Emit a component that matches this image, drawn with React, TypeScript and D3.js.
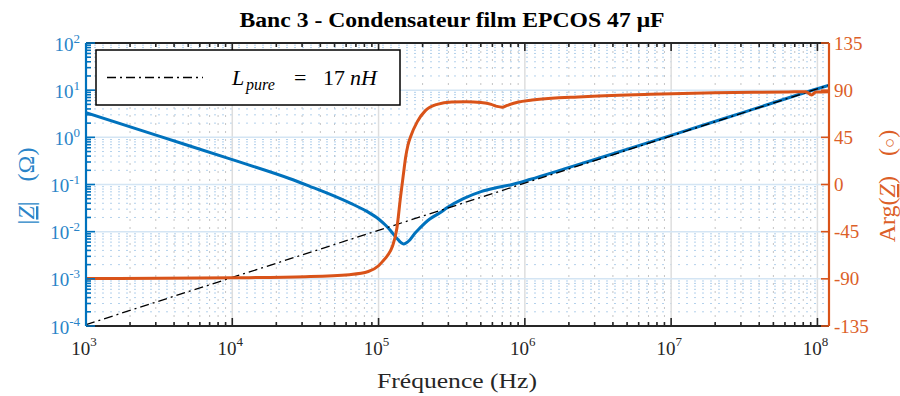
import React from 'react';
import * as d3 from 'd3';

// ---- data ----
const magFreq = [1e3, 3162, 1e4, 24547, 33884, 46774, 64565, 83176, 1e5, 112202, 120226, 133352, 147911, 164059, 177828, 190546, 223872, 263027, 295121, 380189, 501187, 645654, 794328, 1.096e6, 1.862e6, 3.162e6, 1e7, 3.162e7, 1e8, 1.2e8];
const magZ = [3.35, 1.06, 0.336, 0.134, 0.0915, 0.0617, 0.0398, 0.0269, 0.0186, 0.0135, 0.0107, 0.00724, 0.0055, 0.00676, 0.00933, 0.01175, 0.0186, 0.0251, 0.0324, 0.0501, 0.0708, 0.0861, 0.0977, 0.129, 0.214, 0.355, 1.10, 3.43, 10.7, 12.7];

const phaseFreq = [1e3, 3162, 1e4, 31623, 63096, 85114, 1e5, 107152, 114815, 124451, 133352, 141254, 147911, 153109, 158489, 165959, 184077, 208930, 251189, 316228, 398107, 501187, 588844, 645654, 699842, 758578, 891251, 1.122e6, 2.512e6, 7.244e6, 1.995e7, 6.31e7, 8.318e7, 9.12e7, 9.77e7, 1.2e8];
const phaseDeg = [-89.8, -89.5, -89.0, -88.0, -86.0, -83.0, -77.5, -73, -68, -59, -42, -12, 10, 26, 37, 46, 60, 70.5, 76.5, 78.8, 79, 78.2, 76.5, 74.5, 73.8, 75.5, 78.5, 80.6, 83.8, 86, 87.6, 88.3, 88.6, 85.5, 88.3, 88.6];

const lpureFreq = [1e3, 1.2e8];
const lpureZ = [1.07e-4, 12.8];

const xDecades = [3, 4, 5, 6, 7, 8];
const yDecades = [-4, -3, -2, -1, 0, 1, 2];
const phaseTicks = [-135, -90, -45, 0, 45, 90, 135];

const TITLE = 'Banc 3 - Condensateur film EPCOS 47 μF';
const XLABEL = 'Fréquence (Hz)';

const BLUE = '#0072BD';
const BLUE_TXT = '#2a84c8';
const ORANGE = '#D95319';
const ORANGE_TXT = '#dc5f28';
const FONT = '"Liberation Serif", "DejaVu Serif", serif';

export default function App() {
  const L = 86, R = 829, T = 43, B = 326;
  const x = d3.scaleLog().domain([1e3, 1.2e8]).range([L, R]);
  const yL = d3.scaleLog().domain([1e-4, 1e2]).range([B, T]);
  const yR = d3.scaleLinear().domain([-135, 135]).range([B, T]);

  const xMinor: number[] = [];
  xDecades.forEach((d) => {
    for (let k = 2; k <= 9; k++) {
      const v = k * Math.pow(10, d);
      if (v <= 1.2e8) xMinor.push(v);
    }
  });
  const yMinor: number[] = [];
  yDecades.forEach((d) => {
    if (d >= 2) return;
    for (let k = 2; k <= 9; k++) yMinor.push(k * Math.pow(10, d));
  });

  const lineMag = d3
    .line<number>()
    .x((_, i) => x(magFreq[i]))
    .y((v) => yL(v))
    .curve(d3.curveMonotoneX);
  const linePh = d3
    .line<number>()
    .x((_, i) => x(phaseFreq[i]))
    .y((v) => yR(v))
    .curve(d3.curveMonotoneX);
  const lineLp = d3
    .line<number>()
    .x((_, i) => x(lpureFreq[i]))
    .y((v) => yL(v));

  return (
    <svg width={900} height={396} style={{ position: 'absolute', left: 0, top: 0, background: '#fff' }} fontFamily={FONT}>
      <rect x={0} y={0} width={900} height={396} fill="#fff" />
      <defs>
        <clipPath id="plotclip">
          <rect x={L} y={T} width={R - L} height={B - T} />
        </clipPath>
      </defs>
      {/* grid */}
      <g>
        {xMinor.map((v, i) => (
          <line key={'xm' + i} x1={x(v)} x2={x(v)} y1={T} y2={B} stroke="#c4c4c4" strokeWidth={1} strokeDasharray="2 6" />
        ))}
        {yMinor.map((v, i) => (
          <line key={'ym' + i} x1={L} x2={R} y1={yL(v)} y2={yL(v)} stroke="#b3d1ec" strokeWidth={1} strokeDasharray="2 6" />
        ))}
        {xDecades.map((d) => (
          <line key={'xM' + d} x1={x(Math.pow(10, d))} x2={x(Math.pow(10, d))} y1={T} y2={B} stroke="#dedede" strokeWidth={1.5} />
        ))}
        {yDecades.map((d) => (
          <line key={'yM' + d} x1={L} x2={R} y1={yL(Math.pow(10, d))} y2={yL(Math.pow(10, d))} stroke="#d4e5f4" strokeWidth={1.5} />
        ))}
      </g>
      {/* curves */}
      <g clipPath="url(#plotclip)">
        <path d={lineMag(magZ) || ''} fill="none" stroke={BLUE} strokeWidth={3} strokeLinejoin="round" />
        <path d={lineLp(lpureZ) || ''} fill="none" stroke="#000" strokeWidth={1.3} strokeDasharray="9 4 2 4" />
        <path d={linePh(phaseDeg) || ''} fill="none" stroke={ORANGE} strokeWidth={3} strokeLinejoin="round" />
      </g>
      {/* bottom & top axes */}
      <g stroke="#262626">
        <line x1={L} x2={R} y1={B} y2={B} strokeWidth={2} />
        <line x1={L} x2={R} y1={T} y2={T} strokeWidth={2} />
        {xDecades.map((d) => (
          <g key={'xt' + d}>
            <line x1={x(Math.pow(10, d))} x2={x(Math.pow(10, d))} y1={B} y2={B - 8} strokeWidth={1.6} />
            <line x1={x(Math.pow(10, d))} x2={x(Math.pow(10, d))} y1={T} y2={T + 8} strokeWidth={1.6} />
          </g>
        ))}
        {xMinor.map((v, i) => (
          <g key={'xmt' + i}>
            <line x1={x(v)} x2={x(v)} y1={B} y2={B - 4} strokeWidth={1.6} />
            <line x1={x(v)} x2={x(v)} y1={T} y2={T + 4} strokeWidth={1.6} />
          </g>
        ))}
      </g>
      {xDecades.map((d) => (
        <text key={'xl' + d} x={x(Math.pow(10, d)) - 2} y={355} textAnchor="middle" fontSize={19} fill="#262626">
          10<tspan dy={-9} fontSize={13}>{d}</tspan>
        </text>
      ))}
      {/* left axis */}
      <g stroke={BLUE}>
        <line x1={L} x2={L} y1={T} y2={B} strokeWidth={2.2} />
        {yDecades.map((d) => (
          <line key={'yt' + d} x1={L} x2={L + 9} y1={yL(Math.pow(10, d))} y2={yL(Math.pow(10, d))} strokeWidth={1.6} />
        ))}
        {yMinor.map((v, i) => (
          <line key={'ymt' + i} x1={L} x2={L + 5} y1={yL(v)} y2={yL(v)} strokeWidth={1.6} />
        ))}
      </g>
      {yDecades.map((d) => (
        <text key={'yl' + d} x={80} y={yL(Math.pow(10, d)) + 7.5} textAnchor="end" fontSize={19} fill={BLUE_TXT}>
          10<tspan dy={-8} fontSize={13}>{d}</tspan>
        </text>
      ))}
      {/* right axis */}
      <g stroke={ORANGE}>
        <line x1={R} x2={R} y1={T} y2={B} strokeWidth={2.2} />
        {phaseTicks.map((p) => (
          <line key={'pt' + p} x1={R} x2={R - 8} y1={yR(p)} y2={yR(p)} strokeWidth={1.6} />
        ))}
      </g>
      {phaseTicks.map((p) => (
        <text key={'pl' + p} x={834} y={yR(p) + 6.5} textAnchor="start" fontSize={19} fill={ORANGE_TXT}>
          {p}
        </text>
      ))}
      {/* axis labels */}
      <text transform="translate(34,186) rotate(-90)" textAnchor="middle" fontSize={24} fill={BLUE_TXT}>
        |<tspan fontStyle="italic" textDecoration="underline">Z</tspan>|<tspan dx={20}>(Ω)</tspan>
      </text>
      <text transform="translate(895,186) rotate(-90)" textAnchor="middle" fontSize={24} fill={ORANGE_TXT}>
        Arg(<tspan fontStyle="italic" textDecoration="underline">Z</tspan>)<tspan dx={20}>(</tspan>
        <tspan fontSize={17}>○</tspan>
        <tspan>)</tspan>
      </text>
      <text x={457} y={388} textAnchor="middle" fontSize={21} fill="#262626" textLength={160} lengthAdjust="spacingAndGlyphs">
        {XLABEL}
      </text>
      <text x={452} y={27} textAnchor="middle" fontSize={20} fontWeight="bold" fill="#000" textLength={425} lengthAdjust="spacingAndGlyphs">
        {TITLE}
      </text>
      {/* legend */}
      <rect x={96} y={50} width={304} height={55} fill="#fff" stroke="#000" strokeWidth={1.5} />
      <line x1={107} x2={203} y1={77.5} y2={77.5} stroke="#000" strokeWidth={1.3} strokeDasharray="9 4 2 4" />
      <text y={85} fontSize={22} fill="#000">
        <tspan x={232} fontStyle="italic">L</tspan>
        <tspan x={246} fontStyle="italic" fontSize={16} dy={5}>pure</tspan>
        <tspan x={294} dy={-5}>=</tspan>
        <tspan x={323}>17</tspan>
        <tspan x={350} fontStyle="italic">nH</tspan>
      </text>
    </svg>
  );
}
